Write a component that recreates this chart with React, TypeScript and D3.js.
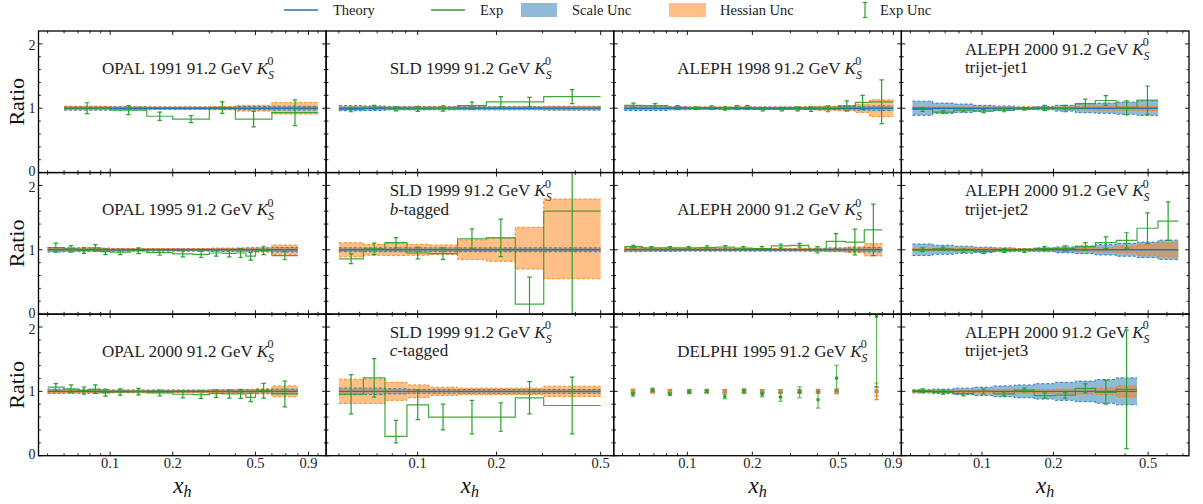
import React from "react";
import * as d3 from "d3";

// ---- canvas & grid ----
const WIDTH = 1203;
const HEIGHT = 504;
const FRAME = { left: 38.5, right: 1189, top: 31, bottom: 455.7 };
const COLS = 4;
const ROWS = 3;

const C_BLUE = "#1f77b4";
const C_ORANGE = "#ff7f0e";
const C_GREEN = "#2ca02c";
const FONT = "'Liberation Serif', 'DejaVu Serif', serif";

// x ranges per column (log scale)
const colXDomains: [number, number][] = [
  [0.0452, 1.094],
  [0.0447, 0.561],
  [0.0456, 0.98],
  [0.0458, 0.743],
];
const yDomain: [number, number] = [0, 2.2];
const yMajorTicks = [0, 1, 2];
const yMinorTicks = [0.2, 0.4, 0.6, 0.8, 1.2, 1.4, 1.6, 1.8];
const xMajorTicks = [0.1, 0.2, 0.5, 0.9];

// ---- OPAL 1991 ----
const opal1991Edges = [0.06, 0.1, 0.15, 0.2, 0.3, 0.4, 0.6, 1.0];
const opal1991Exp = [1.0, 0.97, 0.875, 0.83, 1.01, 0.83, 0.93];
const opal1991Err = [0.085, 0.07, 0.065, 0.055, 0.09, 0.12, 0.2];
const opal1991Scale = [0.03, 0.025, 0.02, 0.02, 0.02, 0.025, 0.03];
const opal1991Hess = [0.025, 0.02, 0.02, 0.02, 0.025, 0.045, 0.09];

// ---- OPAL 1995 / 2000 ----
const opalEdges = [0.05, 0.06, 0.07, 0.08, 0.09, 0.1, 0.125, 0.15, 0.2, 0.25, 0.3, 0.35, 0.4, 0.45, 0.5, 0.6, 0.8];
const opal1995Exp = [1.035, 1.015, 0.99, 1.03, 0.97, 0.965, 0.985, 0.955, 0.935, 0.93, 0.95, 0.945, 0.95, 0.9, 0.99, 0.91];
const opal1995Err = [0.07, 0.05, 0.045, 0.05, 0.045, 0.04, 0.045, 0.04, 0.045, 0.05, 0.05, 0.055, 0.07, 0.06, 0.065, 0.065];
const opal1995Scale = [0.035, 0.03, 0.03, 0.025, 0.025, 0.02, 0.02, 0.02, 0.02, 0.02, 0.025, 0.025, 0.025, 0.03, 0.03, 0.035];
const opal1995Hess = [0.025, 0.02, 0.02, 0.02, 0.02, 0.02, 0.02, 0.02, 0.02, 0.02, 0.02, 0.02, 0.025, 0.025, 0.035, 0.075];
const opal2000Exp = [1.065, 1.04, 1.01, 1.035, 0.98, 0.99, 0.995, 0.975, 0.955, 0.95, 0.965, 0.96, 0.96, 0.905, 1.01, 0.96];
const opal2000Err = [0.055, 0.06, 0.055, 0.065, 0.055, 0.05, 0.05, 0.045, 0.055, 0.06, 0.06, 0.065, 0.07, 0.065, 0.115, 0.2];
const opal2000Scale = [0.035, 0.03, 0.03, 0.025, 0.025, 0.02, 0.02, 0.02, 0.02, 0.02, 0.025, 0.025, 0.025, 0.03, 0.03, 0.035];
const opal2000Hess = [0.025, 0.02, 0.02, 0.02, 0.02, 0.02, 0.02, 0.02, 0.02, 0.02, 0.02, 0.02, 0.025, 0.025, 0.04, 0.085];

// ---- SLD 1999 (inclusive, b-tagged, c-tagged) ----
const sldEdges = [0.05, 0.062, 0.075, 0.091, 0.11, 0.142, 0.183, 0.236, 0.303, 0.5];
const sldExp = [0.98, 1.015, 0.99, 0.99, 0.995, 1.04, 1.1, 1.1, 1.18];
const sldErr = [0.035, 0.03, 0.03, 0.04, 0.04, 0.055, 0.08, 0.07, 0.11];
const sldScale = [0.04, 0.035, 0.025, 0.025, 0.025, 0.025, 0.025, 0.025, 0.03];
const sldHess = [0.02, 0.02, 0.02, 0.02, 0.02, 0.02, 0.02, 0.02, 0.025];
const sldBExp = [0.86, 1.015, 1.11, 0.95, 0.94, 1.17, 1.185, 0.155, 1.6];
const sldBErr = [0.075, 0.09, 0.08, 0.09, 0.09, 0.155, 0.29, 0.42, 1.9];
const sldBScale = [0.03, 0.03, 0.03, 0.03, 0.03, 0.03, 0.03, 0.03, 0.03];
const sldBHessDown = [0.11, 0.085, 0.09, 0.085, 0.075, 0.15, 0.18, 0.3, 0.45];
const sldBHessUp = [0.11, 0.085, 0.1, 0.085, 0.075, 0.15, 0.19, 0.35, 0.79];
const sldCExp = [0.955, 1.21, 0.3, 0.79, 0.6, 0.6, 0.6, 0.9, 0.78];
const sldCErrDown = [0.305, 0.3, 0.1, 0.23, 0.2, 0.26, 0.22, 0.25, 0.44];
const sldCErrUp = [0.305, 0.3, 0.25, 0.23, 0.2, 0.26, 0.22, 0.25, 0.44];
const sldCScale = [0.05, 0.05, 0.04, 0.03, 0.03, 0.03, 0.03, 0.03, 0.03];
const sldCHess = [0.19, 0.19, 0.14, 0.1, 0.065, 0.05, 0.05, 0.05, 0.08];

// ---- ALEPH 1998 ----
const aleph1998Edges = [0.051, 0.062, 0.081, 0.1, 0.12, 0.14, 0.16, 0.18, 0.2, 0.25, 0.3, 0.35, 0.4, 0.5, 0.6, 0.7, 0.9];
const aleph1998Exp = [1.045, 1.04, 1.01, 1.0, 1.01, 0.995, 1.01, 1.01, 0.985, 0.985, 0.99, 0.985, 0.99, 1.035, 1.09, 1.1];
const aleph1998Err = [0.035, 0.03, 0.03, 0.02, 0.025, 0.025, 0.03, 0.03, 0.025, 0.025, 0.03, 0.035, 0.045, 0.08, 0.11, 0.34];
const aleph1998Scale = [0.035, 0.035, 0.025, 0.02, 0.02, 0.02, 0.02, 0.02, 0.02, 0.02, 0.02, 0.02, 0.025, 0.025, 0.03, 0.035];
const aleph1998Hess = [0.02, 0.02, 0.02, 0.02, 0.02, 0.02, 0.02, 0.02, 0.02, 0.02, 0.02, 0.025, 0.03, 0.04, 0.065, 0.13];

// ---- ALEPH 2000 ----
const aleph2000Edges = [0.051, 0.062, 0.075, 0.092, 0.112, 0.136, 0.165, 0.2, 0.245, 0.3, 0.365, 0.44, 0.54, 0.66, 0.8];
const aleph2000Exp = [1.05, 1.03, 1.03, 1.03, 1.035, 1.04, 1.025, 1.02, 1.06, 1.07, 1.0, 1.13, 1.12, 1.31];
const aleph2000Err = [0.02, 0.02, 0.02, 0.02, 0.025, 0.025, 0.025, 0.03, 0.03, 0.03, 0.05, 0.12, 0.2, 0.4];
const aleph2000Scale = [0.03, 0.025, 0.025, 0.02, 0.02, 0.02, 0.02, 0.02, 0.02, 0.02, 0.02, 0.025, 0.03, 0.035];
const aleph2000Hess = [0.02, 0.02, 0.02, 0.02, 0.02, 0.02, 0.02, 0.02, 0.02, 0.02, 0.025, 0.03, 0.045, 0.095];

// ---- DELPHI 1995 (points) ----
const delphiX = [0.056, 0.069, 0.083, 0.102, 0.123, 0.149, 0.183, 0.222, 0.27, 0.331, 0.403, 0.491, 0.752];
const delphiExp = [0.955, 1.025, 0.955, 0.99, 1.005, 0.92, 1.005, 0.95, 0.91, 0.985, 0.87, 1.205, 2.165];
const delphiErr = [0.03, 0.025, 0.02, 0.025, 0.025, 0.035, 0.035, 0.035, 0.065, 0.085, 0.13, 0.2, 1.1];
const delphiScale = [0.03, 0.02, 0.02, 0.02, 0.02, 0.02, 0.02, 0.02, 0.02, 0.025, 0.03, 0.035, 0.07];
const delphiHess = [0.03, 0.02, 0.02, 0.02, 0.02, 0.02, 0.02, 0.02, 0.02, 0.02, 0.025, 0.03, 0.13];

// ---- ALEPH 2000 trijet ----
const trijetEdges = [0.051, 0.062, 0.076, 0.092, 0.112, 0.137, 0.166, 0.203, 0.247, 0.3, 0.367, 0.449, 0.55, 0.67];
const jet1Exp = [0.98, 0.94, 0.97, 0.955, 0.97, 0.99, 1.005, 0.995, 1.07, 1.12, 1.005, 1.125];
const jet1Err = [0.03, 0.02, 0.025, 0.025, 0.025, 0.02, 0.04, 0.05, 0.07, 0.075, 0.11, 0.22];
const jet1Scale = [0.11, 0.08, 0.065, 0.045, 0.035, 0.02, 0.025, 0.045, 0.07, 0.08, 0.095, 0.115];
const jet1Hess = [0.02, 0.02, 0.02, 0.02, 0.02, 0.02, 0.02, 0.02, 0.025, 0.03, 0.03, 0.035];
const jet2Exp = [1.0, 1.015, 0.99, 0.97, 0.99, 0.985, 1.02, 1.02, 1.05, 1.11, 1.145, 1.335, 1.445];
const jet2Err = [0.03, 0.025, 0.025, 0.03, 0.03, 0.025, 0.03, 0.04, 0.06, 0.09, 0.12, 0.24, 0.3];
const jet2Scale = [0.09, 0.07, 0.055, 0.04, 0.03, 0.02, 0.03, 0.045, 0.06, 0.08, 0.1, 0.12, 0.15];
const jet2Hess = [0.02, 0.02, 0.02, 0.02, 0.02, 0.02, 0.02, 0.025, 0.03, 0.035, 0.05, 0.085, 0.11];
const jet3Exp = [1.01, 0.985, 0.965, 1.0, 0.96, 1.02, 0.935, 0.94, 1.045, 0.985, 1.03];
const jet3Err = [0.03, 0.03, 0.035, 0.04, 0.03, 0.03, 0.04, 0.045, 0.07, 0.185, 0.92];
const jet3Scale = [0.025, 0.035, 0.05, 0.065, 0.085, 0.1, 0.12, 0.14, 0.16, 0.185, 0.21];
const jet3Hess = [0.015, 0.015, 0.02, 0.02, 0.025, 0.025, 0.03, 0.035, 0.04, 0.05, 0.085];

// ---- panel table (row-major) ----
type StepPanel = {
  kind: "step";
  name: string;
  sub?: string;
  edges: number[];
  exp: number[];
  errDown: number[];
  errUp: number[];
  scale: number[];
  hessDown: number[];
  hessUp: number[];
};
type PointPanel = {
  kind: "points";
  name: string;
  sub?: string;
  x: number[];
  exp: number[];
  err: number[];
  scale: number[];
  hess: number[];
};
type Panel = StepPanel | PointPanel;

const step = (name: string, edges: number[], exp: number[], err: number[], scale: number[], hess: number[], sub?: string): StepPanel => ({
  kind: "step", name, sub, edges: edges.slice(0, exp.length + 1), exp, errDown: err, errUp: err, scale, hessDown: hess, hessUp: hess,
});

const panels: Panel[] = [
  step("OPAL 1991 91.2 GeV", opal1991Edges, opal1991Exp, opal1991Err, opal1991Scale, opal1991Hess),
  step("SLD 1999 91.2 GeV", sldEdges, sldExp, sldErr, sldScale, sldHess),
  step("ALEPH 1998 91.2 GeV", aleph1998Edges, aleph1998Exp, aleph1998Err, aleph1998Scale, aleph1998Hess),
  step("ALEPH 2000 91.2 GeV", trijetEdges, jet1Exp, jet1Err, jet1Scale, jet1Hess, "trijet-jet1"),
  step("OPAL 1995 91.2 GeV", opalEdges, opal1995Exp, opal1995Err, opal1995Scale, opal1995Hess),
  {
    kind: "step", name: "SLD 1999 91.2 GeV", sub: "b", edges: sldEdges, exp: sldBExp,
    errDown: sldBErr, errUp: sldBErr, scale: sldBScale, hessDown: sldBHessDown, hessUp: sldBHessUp,
  },
  step("ALEPH 2000 91.2 GeV", aleph2000Edges, aleph2000Exp, aleph2000Err, aleph2000Scale, aleph2000Hess),
  step("ALEPH 2000 91.2 GeV", trijetEdges, jet2Exp, jet2Err, jet2Scale, jet2Hess, "trijet-jet2"),
  step("OPAL 2000 91.2 GeV", opalEdges, opal2000Exp, opal2000Err, opal2000Scale, opal2000Hess),
  {
    kind: "step", name: "SLD 1999 91.2 GeV", sub: "c", edges: sldEdges, exp: sldCExp,
    errDown: sldCErrDown, errUp: sldCErrUp, scale: sldCScale, hessDown: sldCHess, hessUp: sldCHess,
  },
  { kind: "points", name: "DELPHI 1995 91.2 GeV", x: delphiX, exp: delphiExp, err: delphiErr, scale: delphiScale, hess: delphiHess },
  step("ALEPH 2000 91.2 GeV", trijetEdges, jet3Exp, jet3Err, jet3Scale, jet3Hess, "trijet-jet3"),
];

// step points carry the lower and upper offsets from the central ratio of 1
type StepPt = { e: number; lo: number; hi: number };
const toSteps = (edges: number[], down: number[], up: number[]): StepPt[] =>
  edges.map((e, i) => {
    const k = Math.min(i, down.length - 1);
    return { e, lo: down[k], hi: up[k] };
  });
type ValPt = { e: number; v: number };
const toValSteps = (edges: number[], vals: number[]): ValPt[] =>
  edges.map((e, i) => ({ e, v: vals[Math.min(i, vals.length - 1)] }));

function minorXTicks(dom: [number, number]): number[] {
  const out: number[] = [];
  for (const dec of [0.01, 0.1, 1]) {
    for (let k = 1; k <= 9; k++) {
      const v = +(k * dec).toPrecision(3);
      if (v < dom[0] || v > dom[1]) continue;
      if (xMajorTicks.some((m) => Math.abs(m - v) < 1e-9)) continue;
      out.push(v);
    }
  }
  return out;
}

function KS0({ size }: { size: number }) {
  const s = size * 0.7;
  return (
    <>
      <tspan fontStyle="italic">K</tspan>
      <tspan fontStyle="italic" fontSize={s} dy={size * 0.3}>S</tspan>
      <tspan fontSize={s} dx={-s * 0.56} dy={-size * 0.78}>0</tspan>
    </>
  );
}

function ErrBar({ x, yTop, yBot, color, cap = 2.2, width = 1.2, opacity = 1 }: { x: number; yTop: number; yBot: number; color: string; cap?: number; width?: number; opacity?: number }) {
  return (
    <g stroke={color} strokeWidth={width} opacity={opacity}>
      <line x1={x} x2={x} y1={yTop} y2={yBot} />
      <line x1={x - cap} x2={x + cap} y1={yTop} y2={yTop} />
      <line x1={x - cap} x2={x + cap} y1={yBot} y2={yBot} />
    </g>
  );
}

function PanelView({ p, r, c }: { p: Panel; r: number; c: number }) {
  const cw = (FRAME.right - FRAME.left) / COLS;
  const rh = (FRAME.bottom - FRAME.top) / ROWS;
  const x0 = FRAME.left + c * cw;
  const x1 = x0 + cw;
  const y0 = FRAME.top + r * rh;
  const y1 = y0 + rh;
  const xs = d3.scaleLog().domain(colXDomains[c]).range([x0, x1]);
  const ys = d3.scaleLinear().domain(yDomain).range([y1, y0]);
  const clipId = `clip-${r}-${c}`;

  const titleSize = 17;
  const tx = x0 + 63.5;
  const twoLines = !!p.sub;
  const line1Y = y0 + (twoLines ? 23.5 : 42.5);
  const line2Y = y0 + 42;

  let content: React.ReactNode = null;
  if (p.kind === "step") {
    const scalePts = toSteps(p.edges, p.scale, p.scale);
    const hessPts = toSteps(p.edges, p.hessDown, p.hessUp);
    const band = d3
      .area<StepPt>()
      .x((d) => xs(d.e))
      .y0((d) => ys(1 - d.lo))
      .y1((d) => ys(1 + d.hi))
      .curve(d3.curveStepAfter);
    const upper = d3.line<StepPt>().x((d) => xs(d.e)).y((d) => ys(1 + d.hi)).curve(d3.curveStepAfter);
    const lower = d3.line<StepPt>().x((d) => xs(d.e)).y((d) => ys(1 - d.lo)).curve(d3.curveStepAfter);
    const val = d3.line<ValPt>().x((d) => xs(d.e)).y((d) => ys(d.v)).curve(d3.curveStepAfter);
    const theoryPts = toValSteps(p.edges, p.exp.map(() => 1));
    const expPts = toValSteps(p.edges, p.exp);
    content = (
      <>
        <path d={band(scalePts) || ""} fill={C_BLUE} fillOpacity={0.5} />
        <path d={band(hessPts) || ""} fill={C_ORANGE} fillOpacity={0.5} />
        <g fill="none" strokeWidth={0.9} strokeDasharray="3,2">
          <path d={upper(scalePts) || ""} stroke={C_BLUE} />
          <path d={lower(scalePts) || ""} stroke={C_BLUE} />
          <path d={upper(hessPts) || ""} stroke={C_ORANGE} />
          <path d={lower(hessPts) || ""} stroke={C_ORANGE} />
        </g>
        <path d={val(theoryPts) || ""} fill="none" stroke={C_BLUE} strokeWidth={1.4} />
        <path d={val(expPts) || ""} fill="none" stroke={C_GREEN} strokeWidth={1.2} strokeOpacity={0.9} />
        {p.exp.map((v, i) => {
          const xm = xs(Math.sqrt(p.edges[i] * p.edges[i + 1]));
          return <ErrBar key={i} x={xm} yTop={ys(v + p.errUp[i])} yBot={ys(v - p.errDown[i])} color={C_GREEN} />;
        })}
      </>
    );
  } else {
    content = (
      <>
        {p.x.map((xv, i) => {
          const xp = xs(xv);
          return (
            <g key={i}>
              <ErrBar x={xp} yTop={ys(1 + p.scale[i])} yBot={ys(1 - p.scale[i])} color={C_BLUE} opacity={0.7} />
              <rect x={xp - 2.2} y={ys(1) - 2.2} width={4.4} height={4.4} fill={C_BLUE} fillOpacity={0.6} />
              <ErrBar x={xp} yTop={ys(1 + p.hess[i])} yBot={ys(1 - p.hess[i])} color={C_ORANGE} />
              <circle cx={xp} cy={ys(1)} r={1.6} fill={C_ORANGE} />
              <ErrBar x={xp} yTop={ys(p.exp[i] + p.err[i])} yBot={ys(p.exp[i] - p.err[i])} color={C_GREEN} opacity={0.75} />
              <circle cx={xp} cy={ys(p.exp[i])} r={1.8} fill={C_GREEN} />
            </g>
          );
        })}
      </>
    );
  }

  const majX = xMajorTicks.filter((v) => v >= colXDomains[c][0] && v <= colXDomains[c][1]);
  const minX = minorXTicks(colXDomains[c]);
  const tickMaj = 4;
  const tickMin = 2.3;
  // small vertical nudges keep the "0" and "2" labels of stacked rows apart
  const yLabelShift = (v: number) => (v === 0 ? 3.5 : v === 2 ? 6.5 : 5);

  return (
    <g>
      <defs>
        <clipPath id={clipId}>
          <rect x={x0} y={y0} width={cw} height={rh} />
        </clipPath>
      </defs>
      <text x={tx} y={line1Y} fontSize={titleSize} fill="#222" fontFamily={FONT}>
        <tspan>{p.name + " "}</tspan>
        <KS0 size={titleSize} />
      </text>
      {p.sub && (
        <text x={tx} y={line2Y} fontSize={titleSize} fill="#222" fontFamily={FONT}>
          {p.sub === "b" || p.sub === "c" ? (
            <>
              <tspan fontStyle="italic">{p.sub}</tspan>
              <tspan>-tagged</tspan>
            </>
          ) : (
            p.sub
          )}
        </text>
      )}
      <g clipPath={`url(#${clipId})`}>{content}</g>
      {/* ticks, all four sides, pointing inward */}
      <g stroke="#000" strokeWidth={0.9}>
        {majX.map((v) => (
          <g key={`mx${v}`}>
            <line x1={xs(v)} x2={xs(v)} y1={y1} y2={y1 - tickMaj} />
            <line x1={xs(v)} x2={xs(v)} y1={y0} y2={y0 + tickMaj} />
          </g>
        ))}
        {minX.map((v) => (
          <g key={`nx${v}`}>
            <line x1={xs(v)} x2={xs(v)} y1={y1} y2={y1 - tickMin} />
            <line x1={xs(v)} x2={xs(v)} y1={y0} y2={y0 + tickMin} />
          </g>
        ))}
        {yMajorTicks.map((v) => (
          <g key={`my${v}`}>
            <line x1={x0} x2={x0 + tickMaj} y1={ys(v)} y2={ys(v)} />
            <line x1={x1} x2={x1 - tickMaj} y1={ys(v)} y2={ys(v)} />
          </g>
        ))}
        {yMinorTicks.map((v) => (
          <g key={`ny${v}`}>
            <line x1={x0} x2={x0 + tickMin} y1={ys(v)} y2={ys(v)} />
            <line x1={x1} x2={x1 - tickMin} y1={ys(v)} y2={ys(v)} />
          </g>
        ))}
      </g>
      <rect x={x0} y={y0} width={cw} height={rh} fill="none" stroke="#000" strokeWidth={1.3} />
      {c === 0 &&
        yMajorTicks.map((v) => (
          <text key={`yl${v}`} x={x0 - 3} y={ys(v) + yLabelShift(v)} fontSize={14} textAnchor="end" fill="#222" fontFamily={FONT}>
            {String(v)}
          </text>
        ))}
      {r === ROWS - 1 &&
        majX.map((v) => (
          <text key={`xl${v}`} x={xs(v)} y={y1 + 12.5} fontSize={14.5} textAnchor="middle" fill="#222" fontFamily={FONT}>
            {String(v)}
          </text>
        ))}
      {r === ROWS - 1 && (
        <text x={(x0 + x1) / 2} y={493} fontSize={23} textAnchor="middle" fill="#111" fontFamily={FONT}>
          <tspan fontStyle="italic">x</tspan>
          <tspan fontStyle="italic" fontSize={16} dy={4}>h</tspan>
        </text>
      )}
      {c === 0 && (
        <text transform={`translate(24,${(y0 + y1) / 2}) rotate(-90)`} fontSize={22} textAnchor="middle" fill="#111" fontFamily={FONT}>
          Ratio
        </text>
      )}
    </g>
  );
}

function Legend() {
  const cy = 10;
  const fs = 14.5;
  const ty = 15;
  return (
    <g fontFamily={FONT} fontSize={fs} fill="#222">
      <line x1={284} x2={318} y1={cy} y2={cy} stroke={C_BLUE} strokeWidth={1.4} />
      <text x={333} y={ty}>Theory</text>
      <line x1={431} x2={465} y1={cy} y2={cy} stroke={C_GREEN} strokeWidth={1.4} />
      <text x={480} y={ty}>Exp</text>
      <rect x={521} y={3} width={36} height={14} fill={C_BLUE} fillOpacity={0.5} />
      <text x={572} y={ty}>Scale Unc</text>
      <rect x={669} y={3} width={37} height={14} fill={C_ORANGE} fillOpacity={0.5} />
      <text x={720} y={ty}>Hessian Unc</text>
      <ErrBar x={865} yTop={2.5} yBot={17.5} color={C_GREEN} cap={2.2} />
      <text x={880} y={ty}>Exp Unc</text>
    </g>
  );
}

export default function App() {
  return (
    <svg
      width={WIDTH}
      height={HEIGHT}
      viewBox={`0 0 ${WIDTH} ${HEIGHT}`}
      style={{ position: "absolute", left: 0, top: 0, display: "block", background: "#fff" }}
    >
      <rect x={0} y={0} width={WIDTH} height={HEIGHT} fill="#fff" />
      <Legend />
      {panels.map((p, i) => (
        <PanelView key={i} p={p} r={Math.floor(i / COLS)} c={i % COLS} />
      ))}
    </svg>
  );
}
